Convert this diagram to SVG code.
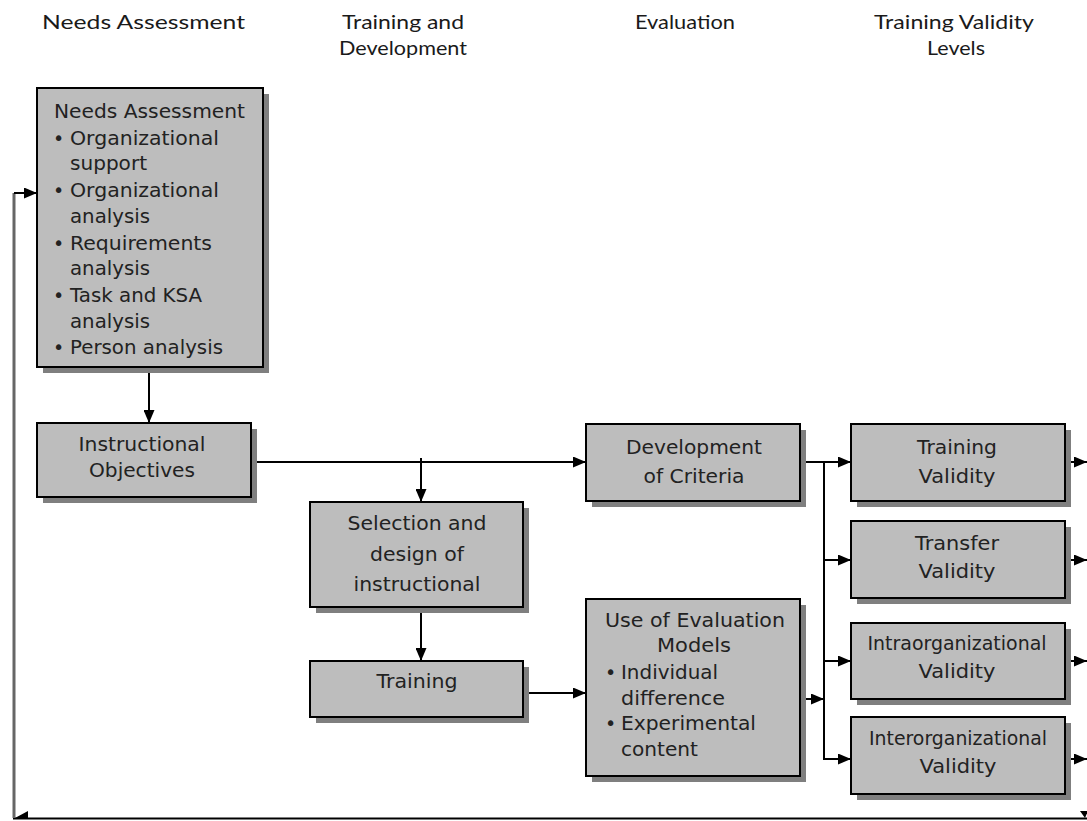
<svg xmlns="http://www.w3.org/2000/svg" width="1087" height="821" viewBox="0 0 1087 821">
  <defs>
    <marker id="arrow" markerUnits="userSpaceOnUse" markerWidth="13" markerHeight="11" refX="13" refY="5.5" orient="auto">
      <path d="M0,0 L13,5.5 L0,11 z" fill="#000"/>
    </marker>
  </defs>
  <style>
    .hdr { font-family: Lato, "Liberation Sans", sans-serif; font-size: 20px; fill: #1a1a1a; }
    .box { fill: #bdbdbd; stroke: #000; stroke-width: 2; }
    .shadow { fill: #7f7f7f; }
    .t { font-family: "DejaVu Sans", Verdana, sans-serif; font-size: 19px; fill: #222; }
    .c { text-anchor: middle; }
    .wire { fill: none; stroke: #000; stroke-width: 2; }
  </style>
  <rect width="1087" height="821" fill="#fff"/>

  <!-- column headings -->
  <g id="headings">
    <text class="hdr" x="42" y="29" textLength="203" lengthAdjust="spacingAndGlyphs">Needs Assessment</text>
    <text class="hdr c" x="403" y="29" textLength="122" lengthAdjust="spacingAndGlyphs">Training and</text>
    <text class="hdr c" x="403" y="55" textLength="128" lengthAdjust="spacingAndGlyphs">Development</text>
    <text class="hdr c" x="685" y="29" textLength="100" lengthAdjust="spacingAndGlyphs">Evaluation</text>
    <text class="hdr c" x="954" y="29" textLength="160" lengthAdjust="spacingAndGlyphs">Training Validity</text>
    <text class="hdr c" x="956" y="55" textLength="58" lengthAdjust="spacingAndGlyphs">Levels</text>
  </g>

  <!-- connectors -->
  <g id="connectors">
    <path class="wire" d="M149,367 V423" marker-end="url(#arrow)"/>
    <path class="wire" d="M251,462 H586" marker-end="url(#arrow)"/>
    <path class="wire" d="M421,458 V502" marker-end="url(#arrow)"/>
    <path class="wire" d="M421,607 V661" marker-end="url(#arrow)"/>
    <path class="wire" d="M523,693 H586" marker-end="url(#arrow)"/>
    <path class="wire" d="M800,462 H851" marker-end="url(#arrow)"/>
    <path class="wire" d="M824,462 V759 H851" marker-end="url(#arrow)"/>
    <path class="wire" d="M824,560 H851" marker-end="url(#arrow)"/>
    <path class="wire" d="M824,661 H851" marker-end="url(#arrow)"/>
    <path class="wire" d="M800,699 H824" marker-end="url(#arrow)"/>
    <path class="wire" d="M1065,462 H1087" marker-end="url(#arrow)"/>
    <path class="wire" d="M1065,560 H1087" marker-end="url(#arrow)"/>
    <path class="wire" d="M1065,661 H1087" marker-end="url(#arrow)"/>
    <path class="wire" d="M1065,759 H1087" marker-end="url(#arrow)"/>
    <!-- feedback loop back to the needs assessment -->
    <path class="wire" d="M13,818.5 H1087"/>
    <path d="M14,818 V193" fill="none" stroke="#666" stroke-width="3"/>
    <path class="wire" d="M14,193 H37" marker-end="url(#arrow)"/>
    <polygon points="15,818 28,811 28,818" fill="#000"/>
    <polygon points="1080,811 1088,811 1085,818" fill="#000"/>
  </g>

  <g id="needs-assessment">
    <rect class="shadow" x="43" y="94" width="226" height="279"/>
    <rect class="box" x="37" y="88" width="226" height="279"/>
    <text class="t" x="54" y="118" textLength="191" lengthAdjust="spacingAndGlyphs">Needs Assessment</text>
    <text class="t" x="53" y="145">•</text>
    <text class="t" x="70" y="145" textLength="149" lengthAdjust="spacingAndGlyphs">Organizational</text>
    <text class="t" x="70" y="170" textLength="77" lengthAdjust="spacingAndGlyphs">support</text>
    <text class="t" x="53" y="197">•</text>
    <text class="t" x="70" y="197" textLength="149" lengthAdjust="spacingAndGlyphs">Organizational</text>
    <text class="t" x="70" y="223" textLength="80" lengthAdjust="spacingAndGlyphs">analysis</text>
    <text class="t" x="53" y="250">•</text>
    <text class="t" x="70" y="250" textLength="142" lengthAdjust="spacingAndGlyphs">Requirements</text>
    <text class="t" x="70" y="275" textLength="80" lengthAdjust="spacingAndGlyphs">analysis</text>
    <text class="t" x="53" y="302">•</text>
    <text class="t" x="70" y="302" textLength="132" lengthAdjust="spacingAndGlyphs">Task and KSA</text>
    <text class="t" x="70" y="328" textLength="80" lengthAdjust="spacingAndGlyphs">analysis</text>
    <text class="t" x="53" y="354">•</text>
    <text class="t" x="70" y="354" textLength="153" lengthAdjust="spacingAndGlyphs">Person analysis</text>
  </g>

  <g id="instructional-objectives">
    <rect class="shadow" x="43" y="429" width="214" height="74"/>
    <rect class="box" x="37" y="423" width="214" height="74"/>
    <text class="t c" x="142" y="451" textLength="127" lengthAdjust="spacingAndGlyphs">Instructional</text>
    <text class="t c" x="142" y="477" textLength="106" lengthAdjust="spacingAndGlyphs">Objectives</text>
  </g>

  <g id="selection-design">
    <rect class="shadow" x="316" y="508" width="213" height="105"/>
    <rect class="box" x="310" y="502" width="213" height="105"/>
    <text class="t c" x="417" y="530" textLength="139" lengthAdjust="spacingAndGlyphs">Selection and</text>
    <text class="t c" x="417" y="561" textLength="94" lengthAdjust="spacingAndGlyphs">design of</text>
    <text class="t c" x="417" y="591" textLength="127" lengthAdjust="spacingAndGlyphs">instructional</text>
  </g>

  <g id="training">
    <rect class="shadow" x="316" y="667" width="213" height="56"/>
    <rect class="box" x="310" y="661" width="213" height="56"/>
    <text class="t c" x="417" y="688" textLength="81" lengthAdjust="spacingAndGlyphs">Training</text>
  </g>

  <g id="development-of-criteria">
    <rect class="shadow" x="592" y="430" width="214" height="77"/>
    <rect class="box" x="586" y="424" width="214" height="77"/>
    <text class="t c" x="694" y="454" textLength="136" lengthAdjust="spacingAndGlyphs">Development</text>
    <text class="t c" x="694" y="483" textLength="101" lengthAdjust="spacingAndGlyphs">of Criteria</text>
  </g>

  <g id="evaluation-models">
    <rect class="shadow" x="592" y="605" width="214" height="177"/>
    <rect class="box" x="586" y="599" width="214" height="177"/>
    <text class="t c" x="695" y="627" textLength="180" lengthAdjust="spacingAndGlyphs">Use of Evaluation</text>
    <text class="t c" x="694" y="652" textLength="74" lengthAdjust="spacingAndGlyphs">Models</text>
    <text class="t" x="605" y="679">•</text>
    <text class="t" x="621" y="679" textLength="97" lengthAdjust="spacingAndGlyphs">Individual</text>
    <text class="t" x="621" y="705" textLength="104" lengthAdjust="spacingAndGlyphs">difference</text>
    <text class="t" x="605" y="730">•</text>
    <text class="t" x="621" y="730" textLength="135" lengthAdjust="spacingAndGlyphs">Experimental</text>
    <text class="t" x="621" y="756" textLength="77" lengthAdjust="spacingAndGlyphs">content</text>
  </g>

  <g id="training-validity">
    <rect class="shadow" x="857" y="430" width="214" height="77"/>
    <rect class="box" x="851" y="424" width="214" height="77"/>
    <text class="t c" x="957" y="454" textLength="80" lengthAdjust="spacingAndGlyphs">Training</text>
    <text class="t c" x="957" y="483" textLength="77" lengthAdjust="spacingAndGlyphs">Validity</text>
  </g>

  <g id="transfer-validity">
    <rect class="shadow" x="857" y="527" width="214" height="77"/>
    <rect class="box" x="851" y="521" width="214" height="77"/>
    <text class="t c" x="957" y="550" textLength="84" lengthAdjust="spacingAndGlyphs">Transfer</text>
    <text class="t c" x="957" y="578" textLength="77" lengthAdjust="spacingAndGlyphs">Validity</text>
  </g>

  <g id="intraorganizational-validity">
    <rect class="shadow" x="857" y="629" width="214" height="76"/>
    <rect class="box" x="851" y="623" width="214" height="76"/>
    <text class="t c" x="957" y="650" textLength="179" lengthAdjust="spacingAndGlyphs">Intraorganizational</text>
    <text class="t c" x="957" y="678" textLength="77" lengthAdjust="spacingAndGlyphs">Validity</text>
  </g>

  <g id="interorganizational-validity">
    <rect class="shadow" x="857" y="723" width="214" height="77"/>
    <rect class="box" x="851" y="717" width="214" height="77"/>
    <text class="t c" x="958" y="745" textLength="178" lengthAdjust="spacingAndGlyphs">Interorganizational</text>
    <text class="t c" x="958" y="773" textLength="77" lengthAdjust="spacingAndGlyphs">Validity</text>
  </g>
</svg>
